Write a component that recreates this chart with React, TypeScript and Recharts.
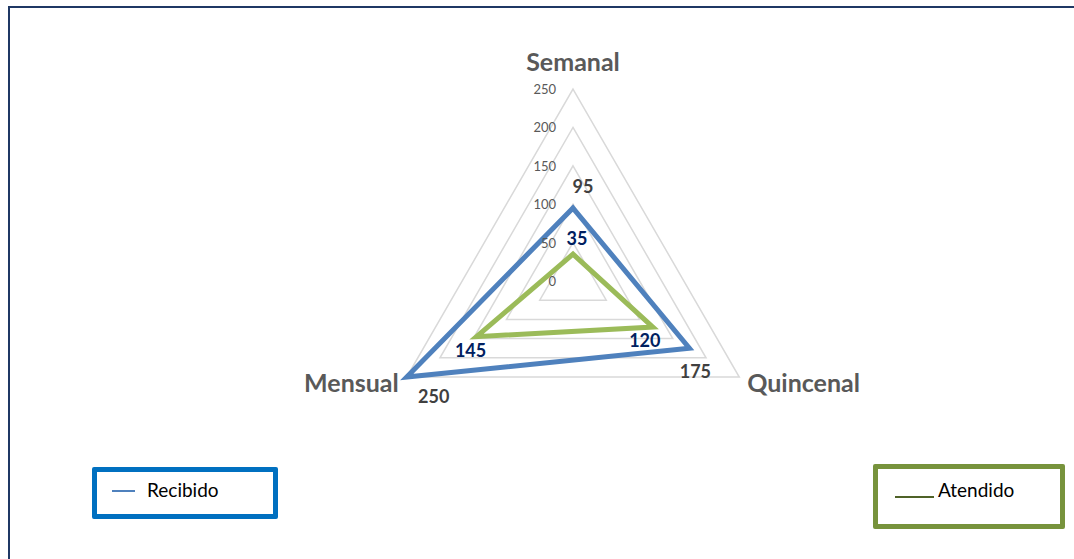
import React from 'react';
import { RadarChart, Radar, PolarGrid, PolarAngleAxis, PolarRadiusAxis, LabelList } from 'recharts';

const categories = ['Semanal', 'Quincenal', 'Mensual'];
const recibido = [95, 175, 250];
const atendido = [35, 120, 145];
const seriesNames = ['Recibido', 'Atendido'];
const radiusDomain = [0, 250];
const radiusTickCount = 6;

const data = categories.map((c, i) => ({ category: c, [seriesNames[0]]: recibido[i], [seriesNames[1]]: atendido[i] }));

const FONT = "Lato, 'Open Sans', sans-serif";

const catOffsets: Record<string, { dx: number; dy: number; anchor: 'start' | 'middle' | 'end' }> = {
  Semanal: { dx: 0, dy: -10, anchor: 'middle' },
  Quincenal: { dx: 1, dy: 11, anchor: 'start' },
  Mensual: { dx: -1, dy: 11, anchor: 'end' },
};

const recOffsets = [
  { dx: 10, dy: -15 },
  { dx: 6, dy: 30 },
  { dx: 27, dy: 26 },
];
const atOffsets = [
  { dx: 4, dy: -9 },
  { dx: -8, dy: 20 },
  { dx: -6, dy: 20 },
];

const makeLabel = (offsets: { dx: number; dy: number }[], color: string) => (props: any) => {
  const x = props.x ?? props.viewBox?.x;
  const y = props.y ?? props.viewBox?.y;
  const idx = props.index ?? 0;
  const o = offsets[idx] || { dx: 0, dy: 0 };
  return (
    <text x={x + o.dx} y={y + o.dy} textAnchor="middle" fill={color} fontFamily={FONT} fontWeight={700} fontSize={18}>
      {props.value}
    </text>
  );
};

const AngleTick = (props: any) => {
  const { x, y, payload } = props;
  const o = catOffsets[payload.value] || { dx: 0, dy: 0, anchor: 'middle' };
  return (
    <text x={x + o.dx} y={y + o.dy} textAnchor={o.anchor} fill="#595959" fontFamily={FONT} fontWeight={700} fontSize={25}>
      {payload.value}
    </text>
  );
};

const RadiusTick = (props: any) => {
  const { x, y, payload } = props;
  return (
    <text x={x - 17} y={y + 5} textAnchor="end" fill="#595959" fontFamily={FONT} fontSize={13}>
      {payload.value}
    </text>
  );
};

export default function App() {
  return (
    <div style={{ position: 'absolute', left: 0, top: 0, width: 1074, height: 559, background: '#fff', overflow: 'hidden', fontFamily: FONT }}>
      <div style={{ position: 'absolute', left: 0, top: 0 }}>
        <RadarChart width={1074} height={559} data={data} cx={573} cy={281} outerRadius={192} margin={{ top: 0, right: 0, bottom: 0, left: 0 }}>
          <PolarGrid gridType="polygon" radialLines={false} stroke="#D9D9D9" strokeWidth={1.5} />
          <PolarAngleAxis dataKey="category" axisLine={false} tickLine={false} tickSize={0} tick={AngleTick} />
          <PolarRadiusAxis angle={90} domain={radiusDomain} tickCount={radiusTickCount} axisLine={false} tickLine={false} tick={RadiusTick} />
          <Radar name={seriesNames[0]} dataKey={seriesNames[0]} stroke="#4F81BD" strokeWidth={5} fill="none" fillOpacity={0} dot={false} isAnimationActive={false}>
            <LabelList dataKey={seriesNames[0]} content={makeLabel(recOffsets, '#404040')} />
          </Radar>
          <Radar name={seriesNames[1]} dataKey={seriesNames[1]} stroke="#9BBB59" strokeWidth={5} fill="none" fillOpacity={0} dot={false} isAnimationActive={false}>
            <LabelList dataKey={seriesNames[1]} content={makeLabel(atOffsets, '#002060')} />
          </Radar>
        </RadarChart>
      </div>
      <div style={{ position: 'absolute', left: 8, top: 6, width: 1066, height: 2, background: '#1F3864', zIndex: 5 }} />
      <div style={{ position: 'absolute', left: 8, top: 6, width: 2, height: 553, background: '#1F3864', zIndex: 5 }} />
      <div style={{ position: 'absolute', left: 92, top: 467, width: 176, height: 42, border: '5px solid #0070C0', borderRadius: 2, background: '#fff' }}>
        <div style={{ position: 'absolute', left: 15, top: 18, width: 23, height: 2, background: '#4F81BD' }} />
        <div style={{ position: 'absolute', left: 50, top: 7, fontSize: 19, color: '#000', lineHeight: '22px' }}>{seriesNames[0]}</div>
      </div>
      <div style={{ position: 'absolute', left: 873, top: 464, width: 182, height: 55, border: '5px solid #77933C', borderRadius: 2, background: '#fff' }}>
        <div style={{ position: 'absolute', left: 17, top: 27, width: 39, height: 2, background: '#4F6228' }} />
        <div style={{ position: 'absolute', left: 60, top: 10, fontSize: 19, color: '#000', lineHeight: '22px' }}>{seriesNames[1]}</div>
      </div>
    </div>
  );
}
